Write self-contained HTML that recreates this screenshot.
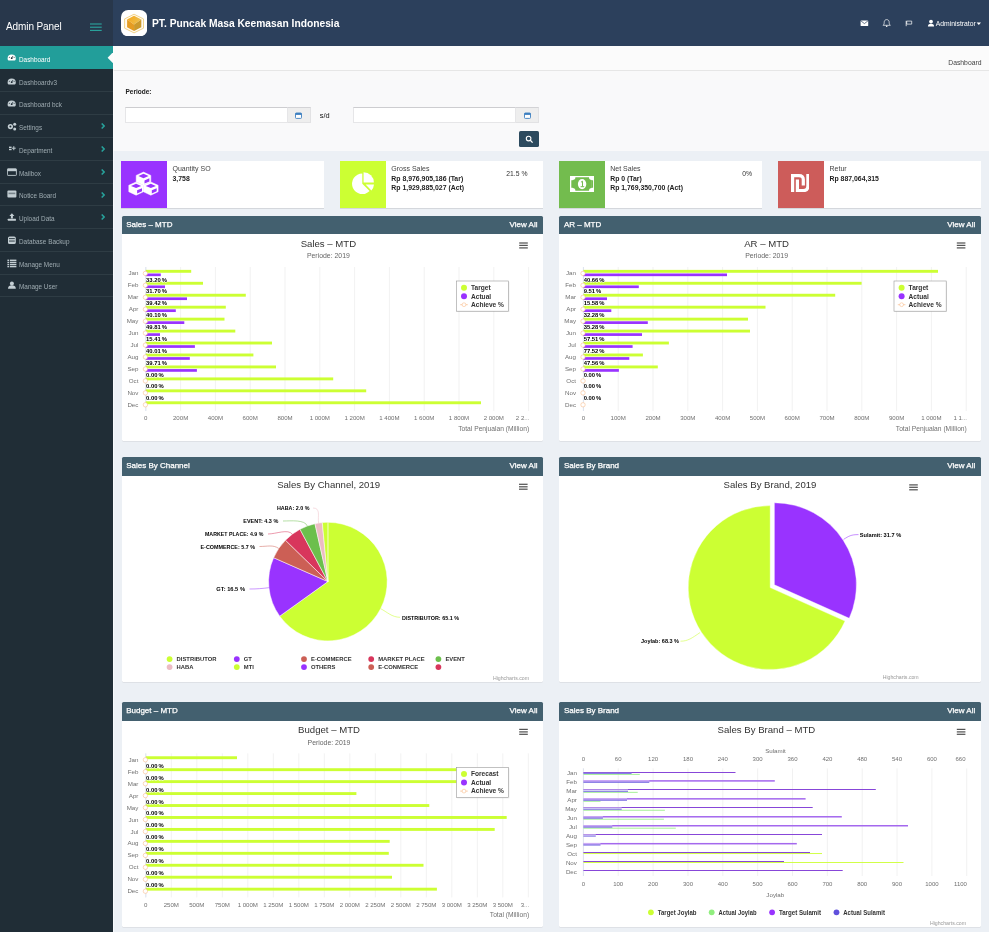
<!DOCTYPE html>
<html lang="id"><head><meta charset="utf-8"><title>Admin Panel - Dashboard</title>
<style>
*{box-sizing:border-box}
html,body{margin:0;padding:0}
body{width:989px;height:932px;overflow:hidden;background:#ecf0f5;font-family:"Liberation Sans",sans-serif;color:#333;position:relative}
.abs{position:absolute}
#sidebar{left:0;top:0;width:112.8px;height:932px;background:#202d36}
#brand{left:0;top:0;width:113px;height:45.5px;background:#28374b}
#brand .t{left:6px;top:19.7px;font-size:10px;color:#fff;letter-spacing:-0.1px;white-space:nowrap;line-height:14px}
#header{left:113px;top:0;width:876px;height:45.5px;background:#2c405c}
#title{left:152px;top:17.1px;font-size:10.25px;font-weight:bold;color:#fff;white-space:nowrap;line-height:14px}
.mi{left:0;width:113px;height:22.77px;border-bottom:1px solid #2e3c44;color:#9eabb1;font-size:6.4px;line-height:22.5px;white-space:nowrap}
.mi span{position:absolute;left:19px;top:1.9px}
.mi.act{background:#229e9a;color:#fff;border-bottom:none}
.mi svg{position:absolute}
#crumb{left:113px;top:45.5px;width:876px;height:25.4px;background:#fbfbfb;border-bottom:1px solid #e6e6e6}
#crumb span{position:absolute;right:7.5px;top:12px;font-size:6.8px;color:#444;line-height:9px}
#filter{left:113px;top:70.9px;width:876px;height:80.1px;background:#f9f9fa}
.inp{height:15.6px;background:#fff;border:1px solid #e6e6e8;border-top-color:#cdcdd0}
.addon{height:15.6px;background:#eeeeee;border:1px solid #e2e2e4;border-top-color:#d3d3d6;border-left:none}
.ibox{top:161px;width:203.3px;height:47px;background:#fff;box-shadow:0 0.5px 0.5px rgba(0,0,0,.1)}
.ibox .ic{position:absolute;left:0;top:0;width:46px;height:47px}
.ibox .l1{position:absolute;left:51.5px;top:3.2px;font-size:7px;color:#444;line-height:9px;white-space:nowrap}
.ibox .l2{position:absolute;left:51.5px;top:12.7px;font-size:6.9px;font-weight:bold;color:#222;line-height:9.4px;white-space:nowrap}
.ibox .pc{position:absolute;top:7.8px;font-size:6.8px;color:#333;line-height:9px;white-space:nowrap}
.panel{width:421.9px;background:#fff;box-shadow:0 0.6px 0.6px rgba(0,0,0,.12);border-radius:1.5px}
.ph{position:absolute;left:0;top:0;width:100%;height:18.3px;background:#43606f;border-radius:1.5px 1.5px 0 0;color:#fff;font-size:8px;font-weight:normal;-webkit-text-stroke:0.25px #fff;line-height:18.3px;white-space:nowrap}
.ph .a{position:absolute;left:4.6px;top:0;letter-spacing:0px}
.ph .b{position:absolute;right:6px;top:0}
svg text{font-family:"Liberation Sans",sans-serif}
</style></head><body>

<div id="sidebar" class="abs"></div>
<div id="brand" class="abs"><div class="t abs">Admin Panel</div>
<svg class="abs" style="left:90px;top:22.5px" width="12" height="9" viewBox="0 0 12 9"><g stroke="#2aa7a0" stroke-width="1.1"><line x1="0" y1="1" x2="11.7" y2="1"/><line x1="0" y1="4.2" x2="11.7" y2="4.2"/><line x1="0" y1="7.4" x2="11.7" y2="7.4"/></g></svg></div>
<div id="header" class="abs"></div>
<svg class="abs" style="left:120.8px;top:9.7px" width="26.4" height="26.4" viewBox="0 0 26.4 26.4"><defs><linearGradient id="lgt" x1="0" y1="0" x2="1" y2="0.4"><stop offset="0" stop-color="#f7a518"/><stop offset="1" stop-color="#ecbf4c"/></linearGradient></defs><rect x="0" y="0" width="26.2" height="26.4" rx="7.2" fill="#fff"/><polygon points="13.05,4.2 22.5,8.9 22.5,18.2 13.05,22.9 3.6,18.2 3.6,8.9" fill="#fffaf0" stroke="#ecc568" stroke-width="0.75" stroke-linejoin="round"/><polygon points="13.05,5.7 20.3,9.6 13.05,14.6 6.1,9.6" fill="url(#lgt)"/><polygon points="6.1,9.6 13.05,14.6 13.05,21.1 6.1,17.2" fill="#e59c22"/><polygon points="20.3,9.6 13.05,14.6 13.05,21.1 20.3,17.2" fill="#cc9a2c"/></svg>
<div id="title" class="abs">PT. Puncak Masa Keemasan Indonesia</div>
<svg class="abs" style="left:855px;top:14px" width="134" height="18" viewBox="855 14 134 18">
<rect x="860.6" y="20.4" width="7.6" height="5.6" rx="0.6" fill="#fff"/><path d="M860.8 20.8 L864.4 23.6 L868 20.8" stroke="#2c405c" stroke-width="0.7" fill="none"/>
<path d="M886.7 19.6 c-1.7 0 -2.5 1.3 -2.5 2.9 c0 1.6 -0.5 2.2 -1.1 2.8 h7.2 c-0.6 -0.6 -1.1 -1.2 -1.1 -2.8 c0 -1.6 -0.8 -2.9 -2.5 -2.9 z" fill="none" stroke="#fff" stroke-width="0.7"/><circle cx="886.7" cy="26.3" r="0.8" fill="#fff"/>
<path d="M906.2 20.8 v5.4" stroke="#fff" stroke-width="0.8"/><path d="M906.7 21.1 h5 v3 h-5 z" fill="none" stroke="#fff" stroke-width="0.7"/>
<circle cx="931" cy="21.6" r="1.9" fill="#fff"/><path d="M927.9 26.6 c0 -2.2 1.4 -2.9 3.1 -2.9 s3.1 0.7 3.1 2.9 z" fill="#fff"/>
<text x="935.8" y="26" font-size="7" fill="#fff" textLength="40" lengthAdjust="spacingAndGlyphs">Administrator</text>
<path d="M976.6 22.6 h4.4 l-2.2 2.3 z" fill="#fff"/>
</svg>
<div class="mi abs act" style="top:45.50px;height:23.4px;line-height:25.3px"><svg style="left:7.4px;top:7.8px" width="10" height="9" viewBox="0 0 10 9"><path d="M0.6 5.4 a4.1 3.9 0 1 1 8.2 0 c0 1 -0.5 2 -1 2 h-6.2 c-0.5 0 -1 -1 -1 -2 z" fill="#fff"/><circle cx="4.7" cy="5.2" r="0.9" fill="#202d36"/><path d="M4.7 5.2 L6 2.9" stroke="#202d36" stroke-width="0.7"/><circle cx="2.3" cy="4.3" r="0.5" fill="#202d36"/><circle cx="7.1" cy="4.3" r="0.5" fill="#202d36"/></svg><span>Dashboard</span></div>
<div class="mi abs" style="top:69.67px"><svg style="left:7.4px;top:6.9px" width="10" height="9" viewBox="0 0 10 9"><path d="M0.6 5.4 a4.1 3.9 0 1 1 8.2 0 c0 1 -0.5 2 -1 2 h-6.2 c-0.5 0 -1 -1 -1 -2 z" fill="#c3ced3"/><circle cx="4.7" cy="5.2" r="0.9" fill="#202d36"/><path d="M4.7 5.2 L6 2.9" stroke="#202d36" stroke-width="0.7"/><circle cx="2.3" cy="4.3" r="0.5" fill="#202d36"/><circle cx="7.1" cy="4.3" r="0.5" fill="#202d36"/></svg><span>Dashboardv3</span></div>
<div class="mi abs" style="top:92.44px"><svg style="left:7.4px;top:6.9px" width="10" height="9" viewBox="0 0 10 9"><path d="M0.6 5.4 a4.1 3.9 0 1 1 8.2 0 c0 1 -0.5 2 -1 2 h-6.2 c-0.5 0 -1 -1 -1 -2 z" fill="#c3ced3"/><circle cx="4.7" cy="5.2" r="0.9" fill="#202d36"/><path d="M4.7 5.2 L6 2.9" stroke="#202d36" stroke-width="0.7"/><circle cx="2.3" cy="4.3" r="0.5" fill="#202d36"/><circle cx="7.1" cy="4.3" r="0.5" fill="#202d36"/></svg><span>Dashboard bck</span></div>
<div class="mi abs" style="top:115.21px"><svg style="left:7.4px;top:6.9px" width="10" height="9" viewBox="0 0 10 9"><circle cx="3.4" cy="4.6" r="2.6" fill="#c3ced3"/><circle cx="3.4" cy="4.6" r="1" fill="#202d36"/><circle cx="7.7" cy="2.3" r="1.5" fill="#c3ced3"/><circle cx="7.7" cy="6.9" r="1.5" fill="#c3ced3"/></svg><span>Settings</span><svg style="left:100.6px;top:8.2px" width="4" height="6" viewBox="0 0 4 6"><path d="M0.7 0.5 L3.1 3 L0.7 5.5" stroke="#27a39c" stroke-width="1.5" fill="none"/></svg></div>
<div class="mi abs" style="top:137.98px"><svg style="left:7.4px;top:6.9px" width="10" height="9" viewBox="0 0 10 9"><rect x="2" y="1.6" width="2.6" height="1.4" fill="#c3ced3"/><rect x="2" y="3.8" width="2.6" height="1.4" fill="#c3ced3"/><path d="M6.8 1.2 v4 M4.9 3.2 h3.8" stroke="#c3ced3" stroke-width="1"/></svg><span>Department</span><svg style="left:100.6px;top:8.2px" width="4" height="6" viewBox="0 0 4 6"><path d="M0.7 0.5 L3.1 3 L0.7 5.5" stroke="#27a39c" stroke-width="1.5" fill="none"/></svg></div>
<div class="mi abs" style="top:160.75px"><svg style="left:7.4px;top:6.9px" width="10" height="9" viewBox="0 0 10 9"><rect x="0.4" y="0.8" width="9" height="6.6" rx="0.6" fill="none" stroke="#c3ced3" stroke-width="0.9"/><rect x="0.4" y="0.8" width="9" height="2.4" fill="#c3ced3"/></svg><span>Mailbox</span><svg style="left:100.6px;top:8.2px" width="4" height="6" viewBox="0 0 4 6"><path d="M0.7 0.5 L3.1 3 L0.7 5.5" stroke="#27a39c" stroke-width="1.5" fill="none"/></svg></div>
<div class="mi abs" style="top:183.52px"><svg style="left:7.4px;top:6.9px" width="10" height="9" viewBox="0 0 10 9"><rect x="0.4" y="0.6" width="9" height="6.8" rx="0.9" fill="#c3ced3"/><rect x="1.5" y="2.6" width="6.8" height="1.6" fill="#202d36" opacity="0.45"/></svg><span>Notice Board</span><svg style="left:100.6px;top:8.2px" width="4" height="6" viewBox="0 0 4 6"><path d="M0.7 0.5 L3.1 3 L0.7 5.5" stroke="#27a39c" stroke-width="1.5" fill="none"/></svg></div>
<div class="mi abs" style="top:206.29px"><svg style="left:7.4px;top:6.9px" width="10" height="9" viewBox="0 0 10 9"><path d="M4.9 0.2 L7.4 3 H5.9 V5.4 H3.9 V3 H2.4 Z" fill="#c3ced3"/><rect x="0.8" y="5.8" width="8.2" height="1.9" rx="0.4" fill="#c3ced3"/></svg><span>Upload Data</span><svg style="left:100.6px;top:8.2px" width="4" height="6" viewBox="0 0 4 6"><path d="M0.7 0.5 L3.1 3 L0.7 5.5" stroke="#27a39c" stroke-width="1.5" fill="none"/></svg></div>
<div class="mi abs" style="top:229.06px"><svg style="left:7.4px;top:6.9px" width="10" height="9" viewBox="0 0 10 9"><rect x="1" y="0.4" width="7.8" height="7.6" rx="1.6" fill="#c3ced3"/><rect x="2" y="2.2" width="5.8" height="0.9" fill="#202d36"/><rect x="2" y="4.6" width="5.8" height="0.9" fill="#202d36"/></svg><span>Database Backup</span></div>
<div class="mi abs" style="top:251.83px"><svg style="left:7.4px;top:6.9px" width="10" height="9" viewBox="0 0 10 9"><g fill="#c3ced3"><rect x="0.4" y="0.6" width="1.6" height="1.4"/><rect x="2.8" y="0.6" width="6.6" height="1.4"/><rect x="0.4" y="2.7" width="1.6" height="1.4"/><rect x="2.8" y="2.7" width="6.6" height="1.4"/><rect x="0.4" y="4.8" width="1.6" height="1.4"/><rect x="2.8" y="4.8" width="6.6" height="1.4"/><rect x="0.4" y="6.9" width="1.6" height="1.4"/><rect x="2.8" y="6.9" width="6.6" height="1.4"/></g></svg><span>Manage Menu</span></div>
<div class="mi abs" style="top:274.60px"><svg style="left:7.4px;top:6.9px" width="10" height="9" viewBox="0 0 10 9"><circle cx="4.9" cy="2.4" r="2" fill="#c3ced3"/><path d="M1 7.8 c0 -2.8 1.8 -3.6 3.9 -3.6 s3.9 0.8 3.9 3.6 z" fill="#c3ced3"/></svg><span>Manage User</span></div>
<svg class="abs" style="left:106.8px;top:51.6px" width="6.2" height="11.4" viewBox="0 0 6.2 11.4"><path d="M6.2 0 L0.6 5.7 L6.2 11.4 Z" fill="#fbfbfb"/></svg>
<div id="crumb" class="abs"><span>Dashboard</span></div>
<div id="filter" class="abs"></div>
<div class="abs" style="left:125.5px;top:87.3px;font-size:6.5px;font-weight:bold;color:#222;line-height:9px">Periode:</div>
<div class="abs inp" style="left:125px;top:107.2px;width:162.5px"></div><div class="abs addon" style="left:287.5px;top:107.2px;width:23.4px"></div>
<div class="abs" style="left:319.8px;top:110.6px;font-size:7.4px;color:#111;line-height:9px">s/d</div>
<div class="abs inp" style="left:353.2px;top:107.2px;width:162.5px"></div><div class="abs addon" style="left:515.7px;top:107.2px;width:23.3px"></div>
<svg class="abs" style="left:295.3px;top:111.8px" width="7" height="7" viewBox="0 0 7 7"><rect x="0.5" y="1" width="6" height="5.4" rx="0.8" fill="#fff" stroke="#3c7fc0" stroke-width="0.9"/><rect x="0.5" y="1" width="6" height="1.9" fill="#3c7fc0"/></svg>
<svg class="abs" style="left:523.6px;top:111.8px" width="7" height="7" viewBox="0 0 7 7"><rect x="0.5" y="1" width="6" height="5.4" rx="0.8" fill="#fff" stroke="#3c7fc0" stroke-width="0.9"/><rect x="0.5" y="1" width="6" height="1.9" fill="#3c7fc0"/></svg>
<div class="abs" style="left:519.2px;top:131.4px;width:19.8px;height:15.8px;background:#2c4a5e;border-radius:1.6px"></div>
<svg class="abs" style="left:525px;top:135.2px" width="9" height="9" viewBox="0 0 9 9"><circle cx="3.6" cy="3.6" r="2.3" fill="none" stroke="#fff" stroke-width="1.1"/><path d="M5.3 5.3 L7.6 7.6" stroke="#fff" stroke-width="1.3"/></svg>
<div class="abs ibox" style="left:121.0px"><div class="ic" style="background:#9933ff"><svg style="position:absolute;left:0;top:0" width="46" height="47" viewBox="0 0 46 47"><polygon points="22.50,11.10 29.80,14.40 29.80,20.87 22.50,24.30 15.20,20.87 15.20,14.40" fill="#fff" stroke="#fff" stroke-width="0.5" stroke-linejoin="round"/><polygon points="22.50,12.80 27.60,15.00 22.50,17.20 17.40,15.00" fill="#9933ff"/><polygon points="23.50,19.40 28.40,17.30 28.40,20.40 23.50,22.50" fill="#9933ff"/><polygon points="15.10,21.00 22.40,24.30 22.40,30.77 15.10,34.20 7.80,30.77 7.80,24.30" fill="#fff" stroke="#fff" stroke-width="0.5" stroke-linejoin="round"/><polygon points="15.10,22.70 20.20,24.90 15.10,27.10 10.00,24.90" fill="#9933ff"/><polygon points="16.10,29.30 21.00,27.20 21.00,30.30 16.10,32.40" fill="#9933ff"/><polygon points="29.80,21.00 37.10,24.30 37.10,30.77 29.80,34.20 22.50,30.77 22.50,24.30" fill="#fff" stroke="#fff" stroke-width="0.5" stroke-linejoin="round"/><polygon points="29.80,22.70 34.90,24.90 29.80,27.10 24.70,24.90" fill="#9933ff"/><polygon points="30.80,29.30 35.70,27.20 35.70,30.30 30.80,32.40" fill="#9933ff"/></svg></div><div class="l1">Quantity SO</div><div class="l2">3,758</div></div>
<div class="abs ibox" style="left:339.8px"><div class="ic" style="background:#ccff33"><svg style="position:absolute;left:12.1px;top:11.3px" width="22.2" height="22.2" viewBox="0 0 22.2 22.2"><path d="M10.3 11.8 L10.3 1.5 A10.3 10.3 0 1 0 17.6 19.1 Z" fill="#fff"/><path d="M11.6 10.5 L11.6 0.2 A10.3 10.3 0 0 1 21.9 10.5 Z" fill="#fff"/><path d="M13.6 12.5 L22 12.5 A10.3 10.3 0 0 1 19.4 18.6 Z" fill="#fff"/></svg></div><div class="l1">Gross Sales</div><div class="l2">Rp 8,976,905,186 (Tar)<br>Rp 1,929,885,027 (Act)</div><div class="pc" style="left:166.5px">21.5 %</div></div>
<div class="abs ibox" style="left:558.7px"><div class="ic" style="background:#73bc4e"><svg style="position:absolute;left:11.3px;top:15px" width="24.4" height="16" viewBox="0 0 24.4 16"><rect x="0" y="0" width="24.4" height="16" fill="#fff"/><path d="M5.4 1.3 H19 A2.7 2.7 0 0 0 21.7 4 V12 A2.7 2.7 0 0 0 19 14.7 H5.4 A2.7 2.7 0 0 0 2.7 12 V4 A2.7 2.7 0 0 0 5.4 1.3 Z" fill="#73bc4e"/><path d="M1.3 4.2 H3 V11.8 H1.3 Z M21.4 4.2 H23.1 V11.8 H21.4 Z" fill="#73bc4e"/><ellipse cx="12.1" cy="8.1" rx="4.2" ry="5.1" fill="#fff"/><path d="M11 6.2 L12.5 5.2 V10.6 M10.6 10.7 H14.2" stroke="#73bc4e" stroke-width="1" fill="none"/></svg></div><div class="l1">Net Sales</div><div class="l2">Rp 0 (Tar)<br>Rp 1,769,350,700 (Act)</div><div class="pc" style="left:183.6px">0%</div></div>
<div class="abs ibox" style="left:778.0px"><div class="ic" style="background:#cd5c5a"><svg style="position:absolute;left:12.8px;top:12.9px" width="18.6" height="18.3" viewBox="0 0 18.6 18.3"><g fill="none" stroke="#fff" stroke-width="3.2"><path d="M1.6 18.3 V1.6 H8 Q12.3 1.6 12.3 5.6 V11.6"/><path d="M16.9 0 V12 Q16.9 16.6 12.3 16.6 H6.4 V5.4"/></g></svg></div><div class="l1">Retur</div><div class="l2">Rp 887,064,315</div></div>
<div class="abs panel" style="left:121.6px;top:216.0px;height:224.8px"><div class="ph"><span class="a">Sales – MTD</span><span class="b">View All</span></div></div>
<div class="abs panel" style="left:559.3px;top:216.0px;height:224.8px"><div class="ph"><span class="a">AR – MTD</span><span class="b">View All</span></div></div>
<div class="abs panel" style="left:121.6px;top:457.3px;height:225.0px"><div class="ph"><span class="a">Sales By Channel</span><span class="b">View All</span></div></div>
<div class="abs panel" style="left:559.3px;top:457.3px;height:225.0px"><div class="ph"><span class="a">Sales By Brand</span><span class="b">View All</span></div></div>
<div class="abs panel" style="left:121.6px;top:702.4px;height:225.0px"><div class="ph"><span class="a">Budget – MTD</span><span class="b">View All</span></div></div>
<div class="abs panel" style="left:559.3px;top:702.4px;height:225.0px"><div class="ph"><span class="a">Sales By Brand</span><span class="b">View All</span></div></div>
<div class="abs" style="left:112.8px;top:45.5px;width:1.4px;height:886.5px;background:rgba(255,255,255,.55)"></div>
<svg class="abs" style="left:0;top:0" width="989" height="932" viewBox="0 0 989 932">
<text x="328.4" y="246.9" font-size="9.6" fill="#333" text-anchor="middle">Sales – MTD</text>
<text x="328.4" y="258.1" font-size="6.9" fill="#666" text-anchor="middle">Periode: 2019</text>
<g stroke="#555" stroke-width="1.25"><line x1="519.2" y1="243.0" x2="527.8" y2="243.0"/><line x1="519.2" y1="245.4" x2="527.8" y2="245.4"/><line x1="519.2" y1="247.9" x2="527.8" y2="247.9"/></g>
<line x1="145.80" y1="267.0" x2="145.80" y2="411.0" stroke="#e7e7e7" stroke-width="0.6"/>
<text x="145.8" y="420.3" font-size="6.1" fill="#707070" text-anchor="middle">0</text>
<line x1="180.60" y1="267.0" x2="180.60" y2="411.0" stroke="#e7e7e7" stroke-width="0.6"/>
<text x="180.6" y="420.3" font-size="6.1" fill="#707070" text-anchor="middle">200M</text>
<line x1="215.40" y1="267.0" x2="215.40" y2="411.0" stroke="#e7e7e7" stroke-width="0.6"/>
<text x="215.4" y="420.3" font-size="6.1" fill="#707070" text-anchor="middle">400M</text>
<line x1="250.20" y1="267.0" x2="250.20" y2="411.0" stroke="#e7e7e7" stroke-width="0.6"/>
<text x="250.2" y="420.3" font-size="6.1" fill="#707070" text-anchor="middle">600M</text>
<line x1="285.00" y1="267.0" x2="285.00" y2="411.0" stroke="#e7e7e7" stroke-width="0.6"/>
<text x="285.0" y="420.3" font-size="6.1" fill="#707070" text-anchor="middle">800M</text>
<line x1="319.80" y1="267.0" x2="319.80" y2="411.0" stroke="#e7e7e7" stroke-width="0.6"/>
<text x="319.8" y="420.3" font-size="6.1" fill="#707070" text-anchor="middle">1 000M</text>
<line x1="354.60" y1="267.0" x2="354.60" y2="411.0" stroke="#e7e7e7" stroke-width="0.6"/>
<text x="354.6" y="420.3" font-size="6.1" fill="#707070" text-anchor="middle">1 200M</text>
<line x1="389.40" y1="267.0" x2="389.40" y2="411.0" stroke="#e7e7e7" stroke-width="0.6"/>
<text x="389.4" y="420.3" font-size="6.1" fill="#707070" text-anchor="middle">1 400M</text>
<line x1="424.20" y1="267.0" x2="424.20" y2="411.0" stroke="#e7e7e7" stroke-width="0.6"/>
<text x="424.2" y="420.3" font-size="6.1" fill="#707070" text-anchor="middle">1 600M</text>
<line x1="459.00" y1="267.0" x2="459.00" y2="411.0" stroke="#e7e7e7" stroke-width="0.6"/>
<text x="459.0" y="420.3" font-size="6.1" fill="#707070" text-anchor="middle">1 800M</text>
<line x1="493.80" y1="267.0" x2="493.80" y2="411.0" stroke="#e7e7e7" stroke-width="0.6"/>
<text x="493.8" y="420.3" font-size="6.1" fill="#707070" text-anchor="middle">2 000M</text>
<line x1="528.60" y1="267.0" x2="528.60" y2="411.0" stroke="#e7e7e7" stroke-width="0.6"/>
<text x="529.4" y="420.3" font-size="6.1" fill="#707070" text-anchor="end">2 2...</text>
<line x1="145.80" y1="267.0" x2="145.80" y2="411.0" stroke="#ccd6eb" stroke-width="0.6"/>
<text x="138.4" y="275.4" font-size="6.2" fill="#707070" text-anchor="end">Jan</text>
<rect x="145.8" y="269.88" width="45.4" height="2.9" fill="#ccff33"/>
<rect x="145.8" y="273.48" width="15.0" height="2.7" fill="#9933ff"/>
<text x="138.4" y="287.3" font-size="6.2" fill="#707070" text-anchor="end">Feb</text>
<rect x="145.8" y="281.82" width="57.2" height="2.9" fill="#ccff33"/>
<rect x="145.8" y="285.43" width="19.2" height="2.7" fill="#9933ff"/>
<text x="138.4" y="299.3" font-size="6.2" fill="#707070" text-anchor="end">Mar</text>
<rect x="145.8" y="293.77" width="100.0" height="2.9" fill="#ccff33"/>
<rect x="145.8" y="297.38" width="41.2" height="2.7" fill="#9933ff"/>
<text x="138.4" y="311.2" font-size="6.2" fill="#707070" text-anchor="end">Apr</text>
<rect x="145.8" y="305.73" width="80.0" height="2.9" fill="#ccff33"/>
<rect x="145.8" y="309.33" width="30.0" height="2.7" fill="#9933ff"/>
<text x="138.4" y="323.2" font-size="6.2" fill="#707070" text-anchor="end">May</text>
<rect x="145.8" y="317.68" width="78.7" height="2.9" fill="#ccff33"/>
<rect x="145.8" y="321.28" width="38.5" height="2.7" fill="#9933ff"/>
<text x="138.4" y="335.1" font-size="6.2" fill="#707070" text-anchor="end">Jun</text>
<rect x="145.8" y="329.62" width="89.5" height="2.9" fill="#ccff33"/>
<rect x="145.8" y="333.23" width="14.2" height="2.7" fill="#9933ff"/>
<text x="138.4" y="347.1" font-size="6.2" fill="#707070" text-anchor="end">Jul</text>
<rect x="145.8" y="341.57" width="126.2" height="2.9" fill="#ccff33"/>
<rect x="145.8" y="345.18" width="49.1" height="2.7" fill="#9933ff"/>
<text x="138.4" y="359.0" font-size="6.2" fill="#707070" text-anchor="end">Aug</text>
<rect x="145.8" y="353.52" width="107.6" height="2.9" fill="#ccff33"/>
<rect x="145.8" y="357.12" width="44.0" height="2.7" fill="#9933ff"/>
<text x="138.4" y="371.0" font-size="6.2" fill="#707070" text-anchor="end">Sep</text>
<rect x="145.8" y="365.48" width="130.2" height="2.9" fill="#ccff33"/>
<rect x="145.8" y="369.08" width="51.1" height="2.7" fill="#9933ff"/>
<text x="138.4" y="382.9" font-size="6.2" fill="#707070" text-anchor="end">Oct</text>
<rect x="145.8" y="377.43" width="187.4" height="2.9" fill="#ccff33"/>
<text x="138.4" y="394.9" font-size="6.2" fill="#707070" text-anchor="end">Nov</text>
<rect x="145.8" y="389.38" width="220.4" height="2.9" fill="#ccff33"/>
<text x="138.4" y="406.8" font-size="6.2" fill="#707070" text-anchor="end">Dec</text>
<rect x="145.8" y="401.32" width="335.2" height="2.9" fill="#ccff33"/>
<rect x="457.2" y="281.8" width="52.2" height="30.2" fill="#000" opacity="0.08"/>
<rect x="456.4" y="281.0" width="52.2" height="30.2" fill="#fff" stroke="#999" stroke-width="0.6"/>
<circle cx="464.0" cy="287.7" r="3" fill="#ccff33"/>
<text x="471.0" y="290.0" font-size="6.6" font-weight="bold" fill="#333">Target</text>
<circle cx="464.0" cy="296.2" r="3" fill="#9933ff"/>
<text x="471.0" y="298.5" font-size="6.6" font-weight="bold" fill="#333">Actual</text>
<line x1="460.2" y1="304.7" x2="467.8" y2="304.7" stroke="#f8b27a" stroke-width="0.6"/><circle cx="464.0" cy="304.7" r="1.9" fill="#fff" stroke="#f8b27a" stroke-width="0.5"/>
<text x="471.0" y="307.0" font-size="6.6" font-weight="bold" fill="#333">Achieve %</text>
<circle cx="145.4" cy="273.4" r="2.2" fill="#fff" stroke="#f8b27a" stroke-width="0.5"/>
<text x="146.1" y="281.6" font-size="5.85" font-weight="bold" fill="#000" stroke="#fff" stroke-width="1.1" paint-order="stroke" stroke-linejoin="round" style="word-spacing:-0.7px">33.20 %</text>
<circle cx="145.4" cy="285.3" r="2.2" fill="#fff" stroke="#f8b27a" stroke-width="0.5"/>
<text x="146.1" y="293.4" font-size="5.85" font-weight="bold" fill="#000" stroke="#fff" stroke-width="1.1" paint-order="stroke" stroke-linejoin="round" style="word-spacing:-0.7px">31.70 %</text>
<circle cx="145.4" cy="297.3" r="2.2" fill="#fff" stroke="#f8b27a" stroke-width="0.5"/>
<text x="146.1" y="305.3" font-size="5.85" font-weight="bold" fill="#000" stroke="#fff" stroke-width="1.1" paint-order="stroke" stroke-linejoin="round" style="word-spacing:-0.7px">39.42 %</text>
<circle cx="145.4" cy="309.2" r="2.2" fill="#fff" stroke="#f8b27a" stroke-width="0.5"/>
<text x="146.1" y="317.2" font-size="5.85" font-weight="bold" fill="#000" stroke="#fff" stroke-width="1.1" paint-order="stroke" stroke-linejoin="round" style="word-spacing:-0.7px">40.10 %</text>
<circle cx="145.4" cy="321.2" r="2.2" fill="#fff" stroke="#f8b27a" stroke-width="0.5"/>
<text x="146.1" y="329.0" font-size="5.85" font-weight="bold" fill="#000" stroke="#fff" stroke-width="1.1" paint-order="stroke" stroke-linejoin="round" style="word-spacing:-0.7px">49.81 %</text>
<circle cx="145.4" cy="333.1" r="2.2" fill="#fff" stroke="#f8b27a" stroke-width="0.5"/>
<text x="146.1" y="340.9" font-size="5.85" font-weight="bold" fill="#000" stroke="#fff" stroke-width="1.1" paint-order="stroke" stroke-linejoin="round" style="word-spacing:-0.7px">15.41 %</text>
<circle cx="145.4" cy="345.1" r="2.2" fill="#fff" stroke="#f8b27a" stroke-width="0.5"/>
<text x="146.1" y="352.8" font-size="5.85" font-weight="bold" fill="#000" stroke="#fff" stroke-width="1.1" paint-order="stroke" stroke-linejoin="round" style="word-spacing:-0.7px">40.01 %</text>
<circle cx="145.4" cy="357.0" r="2.2" fill="#fff" stroke="#f8b27a" stroke-width="0.5"/>
<text x="146.1" y="364.6" font-size="5.85" font-weight="bold" fill="#000" stroke="#fff" stroke-width="1.1" paint-order="stroke" stroke-linejoin="round" style="word-spacing:-0.7px">39.71 %</text>
<circle cx="145.4" cy="369.0" r="2.2" fill="#fff" stroke="#f8b27a" stroke-width="0.5"/>
<text x="146.1" y="376.5" font-size="5.85" font-weight="bold" fill="#000" stroke="#fff" stroke-width="1.1" paint-order="stroke" stroke-linejoin="round" style="word-spacing:-0.7px">0.00 %</text>
<circle cx="145.4" cy="380.9" r="2.2" fill="#fff" stroke="#f8b27a" stroke-width="0.5"/>
<text x="146.1" y="388.4" font-size="5.85" font-weight="bold" fill="#000" stroke="#fff" stroke-width="1.1" paint-order="stroke" stroke-linejoin="round" style="word-spacing:-0.7px">0.00 %</text>
<circle cx="145.4" cy="392.9" r="2.2" fill="#fff" stroke="#f8b27a" stroke-width="0.5"/>
<text x="146.1" y="400.2" font-size="5.85" font-weight="bold" fill="#000" stroke="#fff" stroke-width="1.1" paint-order="stroke" stroke-linejoin="round" style="word-spacing:-0.7px">0.00 %</text>
<circle cx="145.4" cy="404.8" r="2.2" fill="#fff" stroke="#f8b27a" stroke-width="0.5"/>
<text x="529.2" y="430.6" font-size="6.7" fill="#707070" text-anchor="end">Total Penjualan (Million)</text>
<text x="766.6" y="246.9" font-size="9.6" fill="#333" text-anchor="middle">AR – MTD</text>
<text x="766.6" y="258.1" font-size="6.9" fill="#666" text-anchor="middle">Periode: 2019</text>
<g stroke="#555" stroke-width="1.25"><line x1="956.8" y1="243.0" x2="965.4" y2="243.0"/><line x1="956.8" y1="245.4" x2="965.4" y2="245.4"/><line x1="956.8" y1="247.9" x2="965.4" y2="247.9"/></g>
<line x1="583.40" y1="267.0" x2="583.40" y2="411.0" stroke="#e7e7e7" stroke-width="0.6"/>
<text x="583.4" y="420.3" font-size="6.1" fill="#707070" text-anchor="middle">0</text>
<line x1="618.20" y1="267.0" x2="618.20" y2="411.0" stroke="#e7e7e7" stroke-width="0.6"/>
<text x="618.2" y="420.3" font-size="6.1" fill="#707070" text-anchor="middle">100M</text>
<line x1="653.00" y1="267.0" x2="653.00" y2="411.0" stroke="#e7e7e7" stroke-width="0.6"/>
<text x="653.0" y="420.3" font-size="6.1" fill="#707070" text-anchor="middle">200M</text>
<line x1="687.80" y1="267.0" x2="687.80" y2="411.0" stroke="#e7e7e7" stroke-width="0.6"/>
<text x="687.8" y="420.3" font-size="6.1" fill="#707070" text-anchor="middle">300M</text>
<line x1="722.60" y1="267.0" x2="722.60" y2="411.0" stroke="#e7e7e7" stroke-width="0.6"/>
<text x="722.6" y="420.3" font-size="6.1" fill="#707070" text-anchor="middle">400M</text>
<line x1="757.40" y1="267.0" x2="757.40" y2="411.0" stroke="#e7e7e7" stroke-width="0.6"/>
<text x="757.4" y="420.3" font-size="6.1" fill="#707070" text-anchor="middle">500M</text>
<line x1="792.20" y1="267.0" x2="792.20" y2="411.0" stroke="#e7e7e7" stroke-width="0.6"/>
<text x="792.2" y="420.3" font-size="6.1" fill="#707070" text-anchor="middle">600M</text>
<line x1="827.00" y1="267.0" x2="827.00" y2="411.0" stroke="#e7e7e7" stroke-width="0.6"/>
<text x="827.0" y="420.3" font-size="6.1" fill="#707070" text-anchor="middle">700M</text>
<line x1="861.80" y1="267.0" x2="861.80" y2="411.0" stroke="#e7e7e7" stroke-width="0.6"/>
<text x="861.8" y="420.3" font-size="6.1" fill="#707070" text-anchor="middle">800M</text>
<line x1="896.60" y1="267.0" x2="896.60" y2="411.0" stroke="#e7e7e7" stroke-width="0.6"/>
<text x="896.6" y="420.3" font-size="6.1" fill="#707070" text-anchor="middle">900M</text>
<line x1="931.40" y1="267.0" x2="931.40" y2="411.0" stroke="#e7e7e7" stroke-width="0.6"/>
<text x="931.4" y="420.3" font-size="6.1" fill="#707070" text-anchor="middle">1 000M</text>
<line x1="966.20" y1="267.0" x2="966.20" y2="411.0" stroke="#e7e7e7" stroke-width="0.6"/>
<text x="967.0" y="420.3" font-size="6.1" fill="#707070" text-anchor="end">1 1...</text>
<line x1="583.40" y1="267.0" x2="583.40" y2="411.0" stroke="#ccd6eb" stroke-width="0.6"/>
<text x="576.0" y="275.4" font-size="6.2" fill="#707070" text-anchor="end">Jan</text>
<rect x="583.4" y="269.88" width="354.6" height="2.9" fill="#ccff33"/>
<rect x="583.4" y="273.48" width="143.6" height="2.7" fill="#9933ff"/>
<text x="576.0" y="287.3" font-size="6.2" fill="#707070" text-anchor="end">Feb</text>
<rect x="583.4" y="281.82" width="278.2" height="2.9" fill="#ccff33"/>
<rect x="583.4" y="285.43" width="55.4" height="2.7" fill="#9933ff"/>
<text x="576.0" y="299.3" font-size="6.2" fill="#707070" text-anchor="end">Mar</text>
<rect x="583.4" y="293.77" width="251.8" height="2.9" fill="#ccff33"/>
<rect x="583.4" y="297.38" width="23.6" height="2.7" fill="#9933ff"/>
<text x="576.0" y="311.2" font-size="6.2" fill="#707070" text-anchor="end">Apr</text>
<rect x="583.4" y="305.73" width="182.1" height="2.9" fill="#ccff33"/>
<rect x="583.4" y="309.33" width="27.9" height="2.7" fill="#9933ff"/>
<text x="576.0" y="323.2" font-size="6.2" fill="#707070" text-anchor="end">May</text>
<rect x="583.4" y="317.68" width="164.6" height="2.9" fill="#ccff33"/>
<rect x="583.4" y="321.28" width="64.4" height="2.7" fill="#9933ff"/>
<text x="576.0" y="335.1" font-size="6.2" fill="#707070" text-anchor="end">Jun</text>
<rect x="583.4" y="329.62" width="166.6" height="2.9" fill="#ccff33"/>
<rect x="583.4" y="333.23" width="58.6" height="2.7" fill="#9933ff"/>
<text x="576.0" y="347.1" font-size="6.2" fill="#707070" text-anchor="end">Jul</text>
<rect x="583.4" y="341.57" width="85.5" height="2.9" fill="#ccff33"/>
<rect x="583.4" y="345.18" width="49.2" height="2.7" fill="#9933ff"/>
<text x="576.0" y="359.0" font-size="6.2" fill="#707070" text-anchor="end">Aug</text>
<rect x="583.4" y="353.52" width="59.5" height="2.9" fill="#ccff33"/>
<rect x="583.4" y="357.12" width="45.9" height="2.7" fill="#9933ff"/>
<text x="576.0" y="371.0" font-size="6.2" fill="#707070" text-anchor="end">Sep</text>
<rect x="583.4" y="365.48" width="74.4" height="2.9" fill="#ccff33"/>
<rect x="583.4" y="369.08" width="35.5" height="2.7" fill="#9933ff"/>
<text x="576.0" y="382.9" font-size="6.2" fill="#707070" text-anchor="end">Oct</text>
<text x="576.0" y="394.9" font-size="6.2" fill="#707070" text-anchor="end">Nov</text>
<text x="576.0" y="406.8" font-size="6.2" fill="#707070" text-anchor="end">Dec</text>
<rect x="894.8" y="281.8" width="52.2" height="30.2" fill="#000" opacity="0.08"/>
<rect x="894.0" y="281.0" width="52.2" height="30.2" fill="#fff" stroke="#999" stroke-width="0.6"/>
<circle cx="901.6" cy="287.7" r="3" fill="#ccff33"/>
<text x="908.6" y="290.0" font-size="6.6" font-weight="bold" fill="#333">Target</text>
<circle cx="901.6" cy="296.2" r="3" fill="#9933ff"/>
<text x="908.6" y="298.5" font-size="6.6" font-weight="bold" fill="#333">Actual</text>
<line x1="897.8" y1="304.7" x2="905.4" y2="304.7" stroke="#f8b27a" stroke-width="0.6"/><circle cx="901.6" cy="304.7" r="1.9" fill="#fff" stroke="#f8b27a" stroke-width="0.5"/>
<text x="908.6" y="307.0" font-size="6.6" font-weight="bold" fill="#333">Achieve %</text>
<circle cx="583.0" cy="273.4" r="2.2" fill="#fff" stroke="#f8b27a" stroke-width="0.5"/>
<text x="583.7" y="281.6" font-size="5.85" font-weight="bold" fill="#000" stroke="#fff" stroke-width="1.1" paint-order="stroke" stroke-linejoin="round" style="word-spacing:-0.7px">40.66 %</text>
<circle cx="583.0" cy="285.3" r="2.2" fill="#fff" stroke="#f8b27a" stroke-width="0.5"/>
<text x="583.7" y="293.4" font-size="5.85" font-weight="bold" fill="#000" stroke="#fff" stroke-width="1.1" paint-order="stroke" stroke-linejoin="round" style="word-spacing:-0.7px">9.51 %</text>
<circle cx="583.0" cy="297.3" r="2.2" fill="#fff" stroke="#f8b27a" stroke-width="0.5"/>
<text x="583.7" y="305.3" font-size="5.85" font-weight="bold" fill="#000" stroke="#fff" stroke-width="1.1" paint-order="stroke" stroke-linejoin="round" style="word-spacing:-0.7px">15.58 %</text>
<circle cx="583.0" cy="309.2" r="2.2" fill="#fff" stroke="#f8b27a" stroke-width="0.5"/>
<text x="583.7" y="317.2" font-size="5.85" font-weight="bold" fill="#000" stroke="#fff" stroke-width="1.1" paint-order="stroke" stroke-linejoin="round" style="word-spacing:-0.7px">32.28 %</text>
<circle cx="583.0" cy="321.2" r="2.2" fill="#fff" stroke="#f8b27a" stroke-width="0.5"/>
<text x="583.7" y="329.0" font-size="5.85" font-weight="bold" fill="#000" stroke="#fff" stroke-width="1.1" paint-order="stroke" stroke-linejoin="round" style="word-spacing:-0.7px">35.28 %</text>
<circle cx="583.0" cy="333.1" r="2.2" fill="#fff" stroke="#f8b27a" stroke-width="0.5"/>
<text x="583.7" y="340.9" font-size="5.85" font-weight="bold" fill="#000" stroke="#fff" stroke-width="1.1" paint-order="stroke" stroke-linejoin="round" style="word-spacing:-0.7px">57.51 %</text>
<circle cx="583.0" cy="345.1" r="2.2" fill="#fff" stroke="#f8b27a" stroke-width="0.5"/>
<text x="583.7" y="352.8" font-size="5.85" font-weight="bold" fill="#000" stroke="#fff" stroke-width="1.1" paint-order="stroke" stroke-linejoin="round" style="word-spacing:-0.7px">77.52 %</text>
<circle cx="583.0" cy="357.0" r="2.2" fill="#fff" stroke="#f8b27a" stroke-width="0.5"/>
<text x="583.7" y="364.6" font-size="5.85" font-weight="bold" fill="#000" stroke="#fff" stroke-width="1.1" paint-order="stroke" stroke-linejoin="round" style="word-spacing:-0.7px">47.56 %</text>
<circle cx="583.0" cy="369.0" r="2.2" fill="#fff" stroke="#f8b27a" stroke-width="0.5"/>
<text x="583.7" y="376.5" font-size="5.85" font-weight="bold" fill="#000" stroke="#fff" stroke-width="1.1" paint-order="stroke" stroke-linejoin="round" style="word-spacing:-0.7px">0.00 %</text>
<circle cx="583.0" cy="380.9" r="2.2" fill="#fff" stroke="#f8b27a" stroke-width="0.5"/>
<text x="583.7" y="388.4" font-size="5.85" font-weight="bold" fill="#000" stroke="#fff" stroke-width="1.1" paint-order="stroke" stroke-linejoin="round" style="word-spacing:-0.7px">0.00 %</text>
<circle cx="583.0" cy="392.9" r="2.2" fill="#fff" stroke="#f8b27a" stroke-width="0.5"/>
<text x="583.7" y="400.2" font-size="5.85" font-weight="bold" fill="#000" stroke="#fff" stroke-width="1.1" paint-order="stroke" stroke-linejoin="round" style="word-spacing:-0.7px">0.00 %</text>
<circle cx="583.0" cy="404.8" r="2.2" fill="#fff" stroke="#f8b27a" stroke-width="0.5"/>
<text x="966.8" y="430.6" font-size="6.7" fill="#707070" text-anchor="end">Total Penjualan (Million)</text>
<text x="329.0" y="733.3" font-size="9.6" fill="#333" text-anchor="middle">Budget – MTD</text>
<text x="329.0" y="744.5" font-size="6.9" fill="#666" text-anchor="middle">Periode: 2019</text>
<g stroke="#555" stroke-width="1.25"><line x1="519.2" y1="729.4" x2="527.8" y2="729.4"/><line x1="519.2" y1="731.9" x2="527.8" y2="731.9"/><line x1="519.2" y1="734.3" x2="527.8" y2="734.3"/></g>
<line x1="145.80" y1="753.4" x2="145.80" y2="897.4" stroke="#e7e7e7" stroke-width="0.6"/>
<text x="145.8" y="906.7" font-size="6.1" fill="#707070" text-anchor="middle">0</text>
<line x1="171.30" y1="753.4" x2="171.30" y2="897.4" stroke="#e7e7e7" stroke-width="0.6"/>
<text x="171.3" y="906.7" font-size="6.1" fill="#707070" text-anchor="middle">250M</text>
<line x1="196.80" y1="753.4" x2="196.80" y2="897.4" stroke="#e7e7e7" stroke-width="0.6"/>
<text x="196.8" y="906.7" font-size="6.1" fill="#707070" text-anchor="middle">500M</text>
<line x1="222.30" y1="753.4" x2="222.30" y2="897.4" stroke="#e7e7e7" stroke-width="0.6"/>
<text x="222.3" y="906.7" font-size="6.1" fill="#707070" text-anchor="middle">750M</text>
<line x1="247.80" y1="753.4" x2="247.80" y2="897.4" stroke="#e7e7e7" stroke-width="0.6"/>
<text x="247.8" y="906.7" font-size="6.1" fill="#707070" text-anchor="middle">1 000M</text>
<line x1="273.30" y1="753.4" x2="273.30" y2="897.4" stroke="#e7e7e7" stroke-width="0.6"/>
<text x="273.3" y="906.7" font-size="6.1" fill="#707070" text-anchor="middle">1 250M</text>
<line x1="298.80" y1="753.4" x2="298.80" y2="897.4" stroke="#e7e7e7" stroke-width="0.6"/>
<text x="298.8" y="906.7" font-size="6.1" fill="#707070" text-anchor="middle">1 500M</text>
<line x1="324.30" y1="753.4" x2="324.30" y2="897.4" stroke="#e7e7e7" stroke-width="0.6"/>
<text x="324.3" y="906.7" font-size="6.1" fill="#707070" text-anchor="middle">1 750M</text>
<line x1="349.80" y1="753.4" x2="349.80" y2="897.4" stroke="#e7e7e7" stroke-width="0.6"/>
<text x="349.8" y="906.7" font-size="6.1" fill="#707070" text-anchor="middle">2 000M</text>
<line x1="375.30" y1="753.4" x2="375.30" y2="897.4" stroke="#e7e7e7" stroke-width="0.6"/>
<text x="375.3" y="906.7" font-size="6.1" fill="#707070" text-anchor="middle">2 250M</text>
<line x1="400.80" y1="753.4" x2="400.80" y2="897.4" stroke="#e7e7e7" stroke-width="0.6"/>
<text x="400.8" y="906.7" font-size="6.1" fill="#707070" text-anchor="middle">2 500M</text>
<line x1="426.30" y1="753.4" x2="426.30" y2="897.4" stroke="#e7e7e7" stroke-width="0.6"/>
<text x="426.3" y="906.7" font-size="6.1" fill="#707070" text-anchor="middle">2 750M</text>
<line x1="451.80" y1="753.4" x2="451.80" y2="897.4" stroke="#e7e7e7" stroke-width="0.6"/>
<text x="451.8" y="906.7" font-size="6.1" fill="#707070" text-anchor="middle">3 000M</text>
<line x1="477.30" y1="753.4" x2="477.30" y2="897.4" stroke="#e7e7e7" stroke-width="0.6"/>
<text x="477.3" y="906.7" font-size="6.1" fill="#707070" text-anchor="middle">3 250M</text>
<line x1="502.80" y1="753.4" x2="502.80" y2="897.4" stroke="#e7e7e7" stroke-width="0.6"/>
<text x="502.8" y="906.7" font-size="6.1" fill="#707070" text-anchor="middle">3 500M</text>
<line x1="528.30" y1="753.4" x2="528.30" y2="897.4" stroke="#e7e7e7" stroke-width="0.6"/>
<text x="529.1" y="906.7" font-size="6.1" fill="#707070" text-anchor="end">3...</text>
<line x1="145.80" y1="753.4" x2="145.80" y2="897.4" stroke="#ccd6eb" stroke-width="0.6"/>
<text x="138.4" y="761.8" font-size="6.2" fill="#707070" text-anchor="end">Jan</text>
<rect x="145.8" y="756.27" width="91.2" height="2.9" fill="#ccff33"/>
<text x="138.4" y="773.7" font-size="6.2" fill="#707070" text-anchor="end">Feb</text>
<rect x="145.8" y="768.23" width="336.2" height="2.9" fill="#ccff33"/>
<text x="138.4" y="785.7" font-size="6.2" fill="#707070" text-anchor="end">Mar</text>
<rect x="145.8" y="780.17" width="326.2" height="2.9" fill="#ccff33"/>
<text x="138.4" y="797.6" font-size="6.2" fill="#707070" text-anchor="end">Apr</text>
<rect x="145.8" y="792.12" width="210.6" height="2.9" fill="#ccff33"/>
<text x="138.4" y="809.6" font-size="6.2" fill="#707070" text-anchor="end">May</text>
<rect x="145.8" y="804.07" width="283.5" height="2.9" fill="#ccff33"/>
<text x="138.4" y="821.5" font-size="6.2" fill="#707070" text-anchor="end">Jun</text>
<rect x="145.8" y="816.02" width="360.9" height="2.9" fill="#ccff33"/>
<text x="138.4" y="833.5" font-size="6.2" fill="#707070" text-anchor="end">Jul</text>
<rect x="145.8" y="827.97" width="348.9" height="2.9" fill="#ccff33"/>
<text x="138.4" y="845.4" font-size="6.2" fill="#707070" text-anchor="end">Aug</text>
<rect x="145.8" y="839.92" width="243.9" height="2.9" fill="#ccff33"/>
<text x="138.4" y="857.4" font-size="6.2" fill="#707070" text-anchor="end">Sep</text>
<rect x="145.8" y="851.88" width="243.0" height="2.9" fill="#ccff33"/>
<text x="138.4" y="869.3" font-size="6.2" fill="#707070" text-anchor="end">Oct</text>
<rect x="145.8" y="863.82" width="277.7" height="2.9" fill="#ccff33"/>
<text x="138.4" y="881.3" font-size="6.2" fill="#707070" text-anchor="end">Nov</text>
<rect x="145.8" y="875.77" width="246.2" height="2.9" fill="#ccff33"/>
<text x="138.4" y="893.2" font-size="6.2" fill="#707070" text-anchor="end">Dec</text>
<rect x="145.8" y="887.72" width="291.1" height="2.9" fill="#ccff33"/>
<rect x="457.2" y="768.2" width="52.2" height="30.2" fill="#000" opacity="0.08"/>
<rect x="456.4" y="767.4" width="52.2" height="30.2" fill="#fff" stroke="#999" stroke-width="0.6"/>
<circle cx="464.0" cy="774.1" r="3" fill="#ccff33"/>
<text x="471.0" y="776.4" font-size="6.6" font-weight="bold" fill="#333">Forecast</text>
<circle cx="464.0" cy="782.6" r="3" fill="#9933ff"/>
<text x="471.0" y="784.9" font-size="6.6" font-weight="bold" fill="#333">Actual</text>
<line x1="460.2" y1="791.1" x2="467.8" y2="791.1" stroke="#f8b27a" stroke-width="0.6"/><circle cx="464.0" cy="791.1" r="1.9" fill="#fff" stroke="#f8b27a" stroke-width="0.5"/>
<text x="471.0" y="793.4" font-size="6.6" font-weight="bold" fill="#333">Achieve %</text>
<circle cx="145.4" cy="759.8" r="2.2" fill="#fff" stroke="#f8b27a" stroke-width="0.5"/>
<text x="146.1" y="767.9" font-size="5.85" font-weight="bold" fill="#000" stroke="#fff" stroke-width="1.1" paint-order="stroke" stroke-linejoin="round" style="word-spacing:-0.7px">0.00 %</text>
<circle cx="145.4" cy="771.7" r="2.2" fill="#fff" stroke="#f8b27a" stroke-width="0.5"/>
<text x="146.1" y="779.8" font-size="5.85" font-weight="bold" fill="#000" stroke="#fff" stroke-width="1.1" paint-order="stroke" stroke-linejoin="round" style="word-spacing:-0.7px">0.00 %</text>
<circle cx="145.4" cy="783.7" r="2.2" fill="#fff" stroke="#f8b27a" stroke-width="0.5"/>
<text x="146.1" y="791.7" font-size="5.85" font-weight="bold" fill="#000" stroke="#fff" stroke-width="1.1" paint-order="stroke" stroke-linejoin="round" style="word-spacing:-0.7px">0.00 %</text>
<circle cx="145.4" cy="795.6" r="2.2" fill="#fff" stroke="#f8b27a" stroke-width="0.5"/>
<text x="146.1" y="803.6" font-size="5.85" font-weight="bold" fill="#000" stroke="#fff" stroke-width="1.1" paint-order="stroke" stroke-linejoin="round" style="word-spacing:-0.7px">0.00 %</text>
<circle cx="145.4" cy="807.6" r="2.2" fill="#fff" stroke="#f8b27a" stroke-width="0.5"/>
<text x="146.1" y="815.4" font-size="5.85" font-weight="bold" fill="#000" stroke="#fff" stroke-width="1.1" paint-order="stroke" stroke-linejoin="round" style="word-spacing:-0.7px">0.00 %</text>
<circle cx="145.4" cy="819.5" r="2.2" fill="#fff" stroke="#f8b27a" stroke-width="0.5"/>
<text x="146.1" y="827.3" font-size="5.85" font-weight="bold" fill="#000" stroke="#fff" stroke-width="1.1" paint-order="stroke" stroke-linejoin="round" style="word-spacing:-0.7px">0.00 %</text>
<circle cx="145.4" cy="831.5" r="2.2" fill="#fff" stroke="#f8b27a" stroke-width="0.5"/>
<text x="146.1" y="839.2" font-size="5.85" font-weight="bold" fill="#000" stroke="#fff" stroke-width="1.1" paint-order="stroke" stroke-linejoin="round" style="word-spacing:-0.7px">0.00 %</text>
<circle cx="145.4" cy="843.4" r="2.2" fill="#fff" stroke="#f8b27a" stroke-width="0.5"/>
<text x="146.1" y="851.0" font-size="5.85" font-weight="bold" fill="#000" stroke="#fff" stroke-width="1.1" paint-order="stroke" stroke-linejoin="round" style="word-spacing:-0.7px">0.00 %</text>
<circle cx="145.4" cy="855.4" r="2.2" fill="#fff" stroke="#f8b27a" stroke-width="0.5"/>
<text x="146.1" y="862.9" font-size="5.85" font-weight="bold" fill="#000" stroke="#fff" stroke-width="1.1" paint-order="stroke" stroke-linejoin="round" style="word-spacing:-0.7px">0.00 %</text>
<circle cx="145.4" cy="867.3" r="2.2" fill="#fff" stroke="#f8b27a" stroke-width="0.5"/>
<text x="146.1" y="874.8" font-size="5.85" font-weight="bold" fill="#000" stroke="#fff" stroke-width="1.1" paint-order="stroke" stroke-linejoin="round" style="word-spacing:-0.7px">0.00 %</text>
<circle cx="145.4" cy="879.3" r="2.2" fill="#fff" stroke="#f8b27a" stroke-width="0.5"/>
<text x="146.1" y="886.6" font-size="5.85" font-weight="bold" fill="#000" stroke="#fff" stroke-width="1.1" paint-order="stroke" stroke-linejoin="round" style="word-spacing:-0.7px">0.00 %</text>
<circle cx="145.4" cy="891.2" r="2.2" fill="#fff" stroke="#f8b27a" stroke-width="0.5"/>
<text x="529.2" y="917.0" font-size="6.7" fill="#707070" text-anchor="end">Total (Million)</text>
<text x="328.6" y="487.9" font-size="9.6" fill="#333" text-anchor="middle">Sales By Channel, 2019</text>
<g stroke="#555" stroke-width="1.25"><line x1="519.0" y1="484.3" x2="527.6" y2="484.3"/><line x1="519.0" y1="486.8" x2="527.6" y2="486.8"/><line x1="519.0" y1="489.2" x2="527.6" y2="489.2"/></g>
<path d="M327.90 581.60 L327.90 522.30 A59.30 59.30 0 1 1 279.71 616.15 Z" fill="#ccff33" stroke="#fff" stroke-width="0.50" stroke-linejoin="round"/>
<path d="M327.90 581.60 L279.71 616.15 A59.30 59.30 0 0 1 273.63 557.71 Z" fill="#9933ff" stroke="#fff" stroke-width="0.50" stroke-linejoin="round"/>
<path d="M327.90 581.60 L273.63 557.71 A59.30 59.30 0 0 1 285.44 540.20 Z" fill="#cc5f55" stroke="#fff" stroke-width="0.50" stroke-linejoin="round"/>
<path d="M327.90 581.60 L285.44 540.20 A59.30 59.30 0 0 1 299.99 529.28 Z" fill="#d8365c" stroke="#fff" stroke-width="0.50" stroke-linejoin="round"/>
<path d="M327.90 581.60 L299.99 529.28 A59.30 59.30 0 0 1 314.96 523.73 Z" fill="#6cbf4c" stroke="#fff" stroke-width="0.50" stroke-linejoin="round"/>
<path d="M327.90 581.60 L314.96 523.73 A59.30 59.30 0 0 1 322.32 522.56 Z" fill="#ecbcc4" stroke="#fff" stroke-width="0.50" stroke-linejoin="round"/>
<path d="M327.90 581.60 L322.32 522.56 A59.30 59.30 0 0 1 327.89 522.30 Z" fill="#ccff33" stroke="#fff" stroke-width="0.50" stroke-linejoin="round"/>
<path d="M313.0 508.0 C321.0 508.0 317.5 516.1 318.6 523.0" fill="none" stroke="#ecbcc4" stroke-width="0.5"/>
<text x="277.0" y="510.2" font-size="5.9" font-weight="bold" fill="#000" text-anchor="start" stroke="#fff" stroke-width="1" paint-order="stroke" stroke-linejoin="round" textLength="32.5" lengthAdjust="spacingAndGlyphs">HABA: 2.0 %</text>
<path d="M283.0 521.0 C291.0 521.0 304.9 519.4 307.3 526.0" fill="none" stroke="#6cbf4c" stroke-width="0.5"/>
<text x="243.3" y="523.2" font-size="5.9" font-weight="bold" fill="#000" text-anchor="start" stroke="#fff" stroke-width="1" paint-order="stroke" stroke-linejoin="round" textLength="35.0" lengthAdjust="spacingAndGlyphs">EVENT: 4.3 %</text>
<path d="M268.0 534.0 C276.0 534.0 288.1 528.6 292.3 534.2" fill="none" stroke="#d8365c" stroke-width="0.5"/>
<text x="205.0" y="536.2" font-size="5.9" font-weight="bold" fill="#000" text-anchor="start" stroke="#fff" stroke-width="1" paint-order="stroke" stroke-linejoin="round" textLength="58.3" lengthAdjust="spacingAndGlyphs">MARKET PLACE: 4.9 %</text>
<path d="M259.5 546.5 C267.5 546.5 272.9 544.5 278.7 548.4" fill="none" stroke="#cc5f55" stroke-width="0.5"/>
<text x="200.5" y="548.7" font-size="5.9" font-weight="bold" fill="#000" text-anchor="start" stroke="#fff" stroke-width="1" paint-order="stroke" stroke-linejoin="round" textLength="54.5" lengthAdjust="spacingAndGlyphs">E-COMMERCE: 5.7 %</text>
<path d="M249.5 589.0 C257.5 589.0 262.0 588.5 268.9 587.7" fill="none" stroke="#9933ff" stroke-width="0.5"/>
<text x="216.3" y="591.2" font-size="5.9" font-weight="bold" fill="#000" text-anchor="start" stroke="#fff" stroke-width="1" paint-order="stroke" stroke-linejoin="round" textLength="28.7" lengthAdjust="spacingAndGlyphs">GT: 16.5 %</text>
<path d="M400.0 617.3 C392.0 617.3 386.9 611.9 380.7 608.7" fill="none" stroke="#ccff33" stroke-width="0.55"/>
<text x="402.0" y="619.5" font-size="5.9" font-weight="bold" fill="#000" text-anchor="start" stroke="#fff" stroke-width="1" paint-order="stroke" stroke-linejoin="round" textLength="57.0" lengthAdjust="spacingAndGlyphs">DISTRIBUTOR: 65.1 %</text>
<circle cx="169.6" cy="659.1" r="2.9" fill="#ccff33"/>
<text x="176.6" y="661.2" font-size="5.85" font-weight="bold" fill="#333">DISTRIBUTOR</text>
<circle cx="236.8" cy="659.1" r="2.9" fill="#9933ff"/>
<text x="243.8" y="661.2" font-size="5.85" font-weight="bold" fill="#333">GT</text>
<circle cx="304.0" cy="659.1" r="2.9" fill="#cc5f55"/>
<text x="311.0" y="661.2" font-size="5.85" font-weight="bold" fill="#333">E-COMMERCE</text>
<circle cx="371.2" cy="659.1" r="2.9" fill="#d8365c"/>
<text x="378.2" y="661.2" font-size="5.85" font-weight="bold" fill="#333">MARKET PLACE</text>
<circle cx="438.4" cy="659.1" r="2.9" fill="#6cbf4c"/>
<text x="445.4" y="661.2" font-size="5.85" font-weight="bold" fill="#333">EVENT</text>
<circle cx="169.6" cy="667.1" r="2.9" fill="#ecbcc4"/>
<text x="176.6" y="669.2" font-size="5.85" font-weight="bold" fill="#333">HABA</text>
<circle cx="236.8" cy="667.1" r="2.9" fill="#ccff33"/>
<text x="243.8" y="669.2" font-size="5.85" font-weight="bold" fill="#333">MTI</text>
<circle cx="304.0" cy="667.1" r="2.9" fill="#9933ff"/>
<text x="311.0" y="669.2" font-size="5.85" font-weight="bold" fill="#333">OTHERS</text>
<circle cx="371.2" cy="667.1" r="2.9" fill="#cc5f55"/>
<text x="378.2" y="669.2" font-size="5.85" font-weight="bold" fill="#333">E-CONMERCE</text>
<circle cx="438.4" cy="667.1" r="2.9" fill="#d8365c"/>
<text x="529" y="679.6" font-size="5.2" fill="#999" text-anchor="end">Highcharts.com</text>
<text x="770" y="487.8" font-size="9.6" fill="#333" text-anchor="middle">Sales By Brand, 2019</text>
<g stroke="#555" stroke-width="1.25"><line x1="909.2" y1="484.9" x2="917.8" y2="484.9"/><line x1="909.2" y1="487.3" x2="917.8" y2="487.3"/><line x1="909.2" y1="489.8" x2="917.8" y2="489.8"/></g>
<path d="M770.20 587.60 L845.05 621.08 A82.00 82.00 0 1 1 770.19 505.60 Z" fill="#ccff33" stroke="#fff" stroke-width="0.40" stroke-linejoin="round"/>
<path d="M774.40 584.80 L774.40 502.80 A82.00 82.00 0 0 1 849.25 618.28 Z" fill="#9933ff" stroke="#fff" stroke-width="0.40" stroke-linejoin="round"/>
<path d="M858.5 534.6 C851 534.6 849 536 843.6 539.4" fill="none" stroke="#9933ff" stroke-width="0.55"/>
<text x="859.8" y="536.8" font-size="5.9" font-weight="bold" fill="#000" text-anchor="start" stroke="#fff" stroke-width="1" paint-order="stroke" stroke-linejoin="round" textLength="41.4" lengthAdjust="spacingAndGlyphs">Sulamit: 31.7 %</text>
<path d="M680.5 641.2 C688 641.2 692 638 700 632.6" fill="none" stroke="#ccff33" stroke-width="0.55"/>
<text x="641.0" y="643.4" font-size="5.9" font-weight="bold" fill="#000" text-anchor="start" stroke="#fff" stroke-width="1" paint-order="stroke" stroke-linejoin="round" textLength="38.0" lengthAdjust="spacingAndGlyphs">Joylab: 68.3 %</text>
<text x="918.7" y="679.4" font-size="5.2" fill="#999" text-anchor="end">Highcharts.com</text>
<text x="766.4" y="733.4" font-size="9.6" fill="#333" text-anchor="middle">Sales By Brand – MTD</text>
<g stroke="#555" stroke-width="1.25"><line x1="956.8" y1="729.4" x2="965.4" y2="729.4"/><line x1="956.8" y1="731.9" x2="965.4" y2="731.9"/><line x1="956.8" y1="734.3" x2="965.4" y2="734.3"/></g>
<line x1="583.40" y1="768.4" x2="583.40" y2="876.0" stroke="#e7e7e7" stroke-width="0.6"/>
<text x="583.4" y="761.4" font-size="6" fill="#707070" text-anchor="middle">0</text>
<text x="583.4" y="885.8" font-size="6" fill="#707070" text-anchor="middle">0</text>
<line x1="618.25" y1="768.4" x2="618.25" y2="876.0" stroke="#e7e7e7" stroke-width="0.6"/>
<text x="618.2" y="761.4" font-size="6" fill="#707070" text-anchor="middle">60</text>
<text x="618.2" y="885.8" font-size="6" fill="#707070" text-anchor="middle">100</text>
<line x1="653.10" y1="768.4" x2="653.10" y2="876.0" stroke="#e7e7e7" stroke-width="0.6"/>
<text x="653.1" y="761.4" font-size="6" fill="#707070" text-anchor="middle">120</text>
<text x="653.1" y="885.8" font-size="6" fill="#707070" text-anchor="middle">200</text>
<line x1="687.95" y1="768.4" x2="687.95" y2="876.0" stroke="#e7e7e7" stroke-width="0.6"/>
<text x="688.0" y="761.4" font-size="6" fill="#707070" text-anchor="middle">180</text>
<text x="688.0" y="885.8" font-size="6" fill="#707070" text-anchor="middle">300</text>
<line x1="722.80" y1="768.4" x2="722.80" y2="876.0" stroke="#e7e7e7" stroke-width="0.6"/>
<text x="722.8" y="761.4" font-size="6" fill="#707070" text-anchor="middle">240</text>
<text x="722.8" y="885.8" font-size="6" fill="#707070" text-anchor="middle">400</text>
<line x1="757.65" y1="768.4" x2="757.65" y2="876.0" stroke="#e7e7e7" stroke-width="0.6"/>
<text x="757.6" y="761.4" font-size="6" fill="#707070" text-anchor="middle">300</text>
<text x="757.6" y="885.8" font-size="6" fill="#707070" text-anchor="middle">500</text>
<line x1="792.50" y1="768.4" x2="792.50" y2="876.0" stroke="#e7e7e7" stroke-width="0.6"/>
<text x="792.5" y="761.4" font-size="6" fill="#707070" text-anchor="middle">360</text>
<text x="792.5" y="885.8" font-size="6" fill="#707070" text-anchor="middle">600</text>
<line x1="827.35" y1="768.4" x2="827.35" y2="876.0" stroke="#e7e7e7" stroke-width="0.6"/>
<text x="827.4" y="761.4" font-size="6" fill="#707070" text-anchor="middle">420</text>
<text x="827.4" y="885.8" font-size="6" fill="#707070" text-anchor="middle">700</text>
<line x1="862.20" y1="768.4" x2="862.20" y2="876.0" stroke="#e7e7e7" stroke-width="0.6"/>
<text x="862.2" y="761.4" font-size="6" fill="#707070" text-anchor="middle">480</text>
<text x="862.2" y="885.8" font-size="6" fill="#707070" text-anchor="middle">800</text>
<line x1="897.05" y1="768.4" x2="897.05" y2="876.0" stroke="#e7e7e7" stroke-width="0.6"/>
<text x="897.0" y="761.4" font-size="6" fill="#707070" text-anchor="middle">540</text>
<text x="897.0" y="885.8" font-size="6" fill="#707070" text-anchor="middle">900</text>
<line x1="931.90" y1="768.4" x2="931.90" y2="876.0" stroke="#e7e7e7" stroke-width="0.6"/>
<text x="931.9" y="761.4" font-size="6" fill="#707070" text-anchor="middle">600</text>
<text x="931.9" y="885.8" font-size="6" fill="#707070" text-anchor="middle">1000</text>
<line x1="966.75" y1="768.4" x2="966.75" y2="876.0" stroke="#e7e7e7" stroke-width="0.6"/>
<text x="960.5" y="761.4" font-size="6" fill="#707070" text-anchor="middle">660</text>
<text x="960.5" y="885.8" font-size="6" fill="#707070" text-anchor="middle">1100</text>
<line x1="583.40" y1="768.4" x2="583.40" y2="876.0" stroke="#ccd6eb" stroke-width="0.6"/>
<text x="775.5" y="752.8" font-size="6.2" fill="#707070" text-anchor="middle">Sulamit</text>
<text x="775.3" y="896.8" font-size="6.2" fill="#707070" text-anchor="middle">Joylab</text>
<text x="576.9" y="775.0" font-size="6.2" fill="#707070" text-anchor="end">Jan</text>
<rect x="583.4" y="773.93" width="56.4" height="0.8" fill="#90ee7e"/>
<rect x="583.4" y="772" width="152.1" height="1" fill="#8746d8"/>
<rect x="583.4" y="771.43" width="48.2" height="0.9" fill="#fff" opacity="0.55"/>
<rect x="583.4" y="772.78" width="48.2" height="0.95" fill="#6050dc"/>
<text x="576.9" y="784.0" font-size="6.2" fill="#707070" text-anchor="end">Feb</text>
<rect x="583.4" y="780.15" width="191.4" height="1.5" fill="#a468ee"/>
<rect x="583.4" y="780.40" width="65.9" height="0.9" fill="#fff" opacity="0.55"/>
<rect x="583.4" y="781.75" width="65.9" height="0.95" fill="#6050dc"/>
<text x="576.9" y="792.9" font-size="6.2" fill="#707070" text-anchor="end">Mar</text>
<rect x="583.4" y="791.88" width="54.3" height="0.8" fill="#90ee7e"/>
<rect x="583.4" y="789" width="292.4" height="1" fill="#8746d8"/>
<rect x="583.4" y="789.38" width="44.6" height="0.9" fill="#fff" opacity="0.55"/>
<rect x="583.4" y="790.73" width="44.6" height="0.95" fill="#6050dc"/>
<text x="576.9" y="801.9" font-size="6.2" fill="#707070" text-anchor="end">Apr</text>
<rect x="583.4" y="800.84" width="17.1" height="0.8" fill="#90ee7e"/>
<rect x="583.4" y="798.09" width="222.2" height="1.5" fill="#a468ee"/>
<rect x="583.4" y="798.34" width="43.6" height="0.9" fill="#fff" opacity="0.55"/>
<rect x="583.4" y="799.69" width="43.6" height="0.95" fill="#6050dc"/>
<text x="576.9" y="810.9" font-size="6.2" fill="#707070" text-anchor="end">May</text>
<rect x="583.4" y="809.81" width="81.5" height="0.8" fill="#90ee7e"/>
<rect x="583.4" y="807" width="229.3" height="1" fill="#8746d8"/>
<rect x="583.4" y="807.31" width="38.3" height="0.9" fill="#fff" opacity="0.55"/>
<rect x="583.4" y="808.66" width="38.3" height="0.95" fill="#6050dc"/>
<text x="576.9" y="819.8" font-size="6.2" fill="#707070" text-anchor="end">Jun</text>
<rect x="583.4" y="818.78" width="80.5" height="0.8" fill="#90ee7e"/>
<rect x="583.4" y="816.03" width="258.4" height="1.5" fill="#a468ee"/>
<rect x="583.4" y="816.28" width="19.5" height="0.9" fill="#fff" opacity="0.55"/>
<rect x="583.4" y="817.63" width="19.5" height="0.95" fill="#6050dc"/>
<text x="576.9" y="828.8" font-size="6.2" fill="#707070" text-anchor="end">Jul</text>
<rect x="583.4" y="827.75" width="92.4" height="0.8" fill="#90ee7e"/>
<rect x="583.4" y="825.00" width="324.6" height="1.5" fill="#a468ee"/>
<rect x="583.4" y="825.25" width="28.9" height="0.9" fill="#fff" opacity="0.55"/>
<rect x="583.4" y="826.61" width="28.9" height="0.95" fill="#6050dc"/>
<text x="576.9" y="837.8" font-size="6.2" fill="#707070" text-anchor="end">Aug</text>
<rect x="583.4" y="834" width="238.6" height="1" fill="#8746d8"/>
<rect x="583.4" y="834.22" width="12.4" height="0.9" fill="#fff" opacity="0.55"/>
<rect x="583.4" y="835.57" width="12.4" height="0.95" fill="#6050dc"/>
<text x="576.9" y="846.7" font-size="6.2" fill="#707070" text-anchor="end">Sep</text>
<rect x="583.4" y="842.94" width="213.4" height="1.5" fill="#a468ee"/>
<rect x="583.4" y="843.19" width="17.1" height="0.9" fill="#fff" opacity="0.55"/>
<rect x="583.4" y="844.54" width="17.1" height="0.95" fill="#6050dc"/>
<text x="576.9" y="855.7" font-size="6.2" fill="#707070" text-anchor="end">Oct</text>
<rect x="583.4" y="853.12" width="238.6" height="0.9" fill="#ccff33"/>
<rect x="583.4" y="852" width="226.6" height="1" fill="#8746d8"/>
<text x="576.9" y="864.7" font-size="6.2" fill="#707070" text-anchor="end">Nov</text>
<rect x="583.4" y="862.09" width="320.1" height="0.9" fill="#ccff33"/>
<rect x="583.4" y="861" width="200.6" height="1" fill="#8746d8"/>
<text x="576.9" y="873.7" font-size="6.2" fill="#707070" text-anchor="end">Dec</text>
<rect x="583.4" y="870" width="259.3" height="1" fill="#8746d8"/>
<circle cx="650.9" cy="912.3" r="2.9" fill="#ccff33"/>
<text x="657.7" y="914.6" font-size="6.3" font-weight="bold" fill="#333" textLength="38.8" lengthAdjust="spacingAndGlyphs">Target Joylab</text>
<circle cx="711.7" cy="912.3" r="2.9" fill="#90ee7e"/>
<text x="718.5" y="914.6" font-size="6.3" font-weight="bold" fill="#333" textLength="38.0" lengthAdjust="spacingAndGlyphs">Actual Joylab</text>
<circle cx="772.1" cy="912.3" r="2.9" fill="#9933ff"/>
<text x="778.9" y="914.6" font-size="6.3" font-weight="bold" fill="#333" textLength="42.2" lengthAdjust="spacingAndGlyphs">Target Sulamit</text>
<circle cx="836.5" cy="912.3" r="2.9" fill="#6050dc"/>
<text x="843.3" y="914.6" font-size="6.3" font-weight="bold" fill="#333" textLength="41.6" lengthAdjust="spacingAndGlyphs">Actual Sulamit</text>
<text x="966" y="924.6" font-size="5.2" fill="#999" text-anchor="end">Highcharts.com</text>
</svg>
</body></html>
